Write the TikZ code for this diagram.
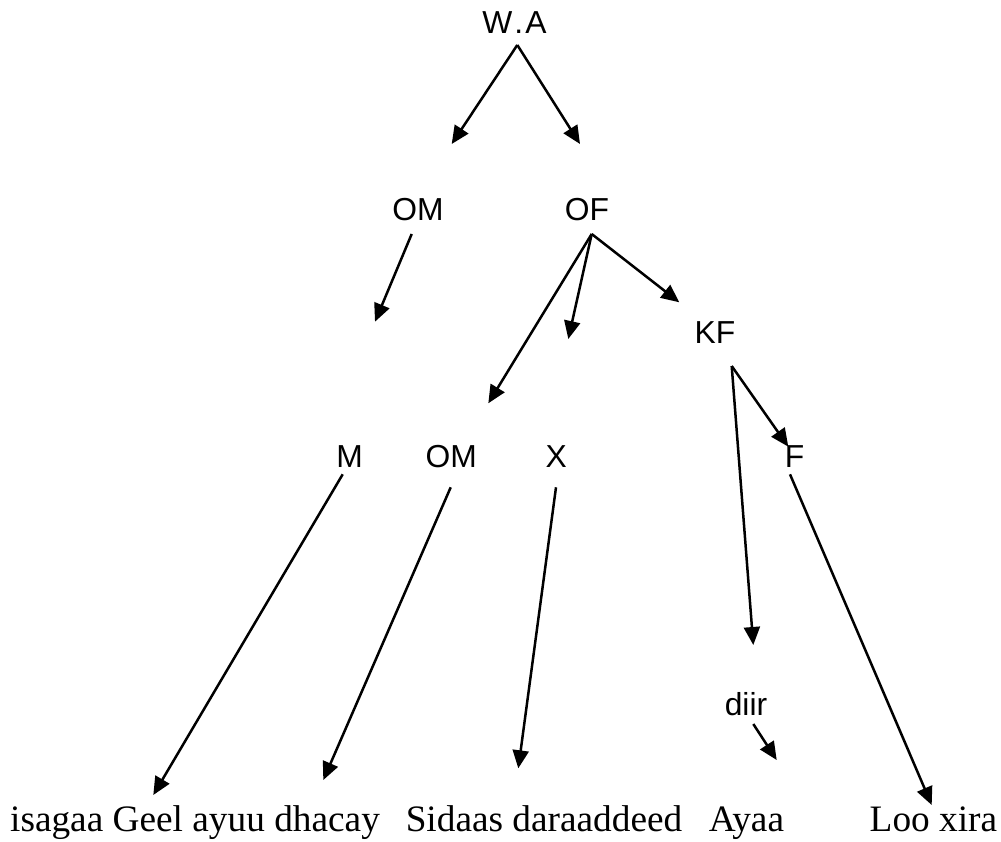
\documentclass[tikz,border=0pt]{standalone}
\usepackage{fontspec}
\setmainfont{Liberation Serif}
\newfontfamily\lblsans{Liberation Sans}
\usetikzlibrary{arrows.meta}

\tikzset{
  lbl/.style={inner sep=0pt, anchor=base, font=\lblsans\fontsize{31.8}{36}\selectfont},
  leaf/.style={inner sep=0pt, anchor=base, font=\fontsize{37.3}{42}\selectfont},
  arr/.style={line width=2.5pt, -{Triangle[length=18pt,width=16pt]}}
}

\begin{document}
\begin{tikzpicture}[x=1pt,y=-1pt]
\useasboundingbox (0,0) rectangle (1001,841);

% labels of the tree
\node[lbl] (wa)  at (514.5,33)  {W\kern2pt.\kern2pt A};
\node[lbl] (om)  at (418,220)   {OM};
\node[lbl] (of)  at (587,220)   {OF};
\node[lbl] (kf)  at (715,343)   {KF};
\node[lbl] (m)   at (349.7,467) {M};
\node[lbl] (om2) at (451.3,467) {OM};
\node[lbl] (x)   at (556.3,467) {X};
\node[lbl] (f)   at (794.7,467) {F};
\node[lbl] (diir) at (746,715)  {diir};

% words on the bottom line
\node[leaf] (w1) at (195,831.5)   {isagaa Geel ayuu dhacay};
\node[leaf] (w2) at (544,831.5)   {Sidaas daraaddeed};
\node[leaf] (w3) at (746.4,831.5) {Ayaa};
\node[leaf] (w4) at (933.4,831.5) {Loo xira};

% points where the arrows leave the labels
\coordinate (wa-o)   at (517.3,45);
\coordinate (om-o)   at (411.7,234);
\coordinate (of-o)   at (591.7,234);
\coordinate (kf-o)   at (731.7,366);
\coordinate (m-o)    at (342.7,474.3);
\coordinate (om2-o)  at (450.7,487.3);
\coordinate (x-o)    at (556,487.3);
\coordinate (f-o)    at (790,474.3);
\coordinate (diir-o) at (753.3,724);

% free arrow tips
\coordinate (t1)  at (451.7,144);
\coordinate (t2)  at (580,144);
\coordinate (t3)  at (375,321.7);
\coordinate (t4)  at (488.3,403.3);
\coordinate (t5)  at (568.3,339);
\coordinate (t6)  at (679.3,302.3);
\coordinate (t7)  at (788.3,446.7);
\coordinate (t8)  at (753.3,645);
\coordinate (t9)  at (153.3,795);
\coordinate (t10) at (323.3,780);
\coordinate (t11) at (518.3,768.3);
\coordinate (t12) at (931.7,805);
\coordinate (t13) at (776.7,760);

\draw[arr] (wa-o) -- (t1);
\draw[arr] (wa-o) -- (t2);
\draw[arr] (om-o) -- (t3);
\draw[arr] (of-o) -- (t4);
\draw[arr] (of-o) -- (t5);
\draw[arr] (of-o) -- (t6);
\draw[arr] (kf-o) -- (t7);
\draw[arr] (kf-o) -- (t8);
\draw[arr] (m-o) -- (t9);
\draw[arr] (om2-o) -- (t10);
\draw[arr] (x-o) -- (t11);
\draw[arr] (f-o) -- (t12);
\draw[arr] (diir-o) -- (t13);
\end{tikzpicture}
\end{document}
